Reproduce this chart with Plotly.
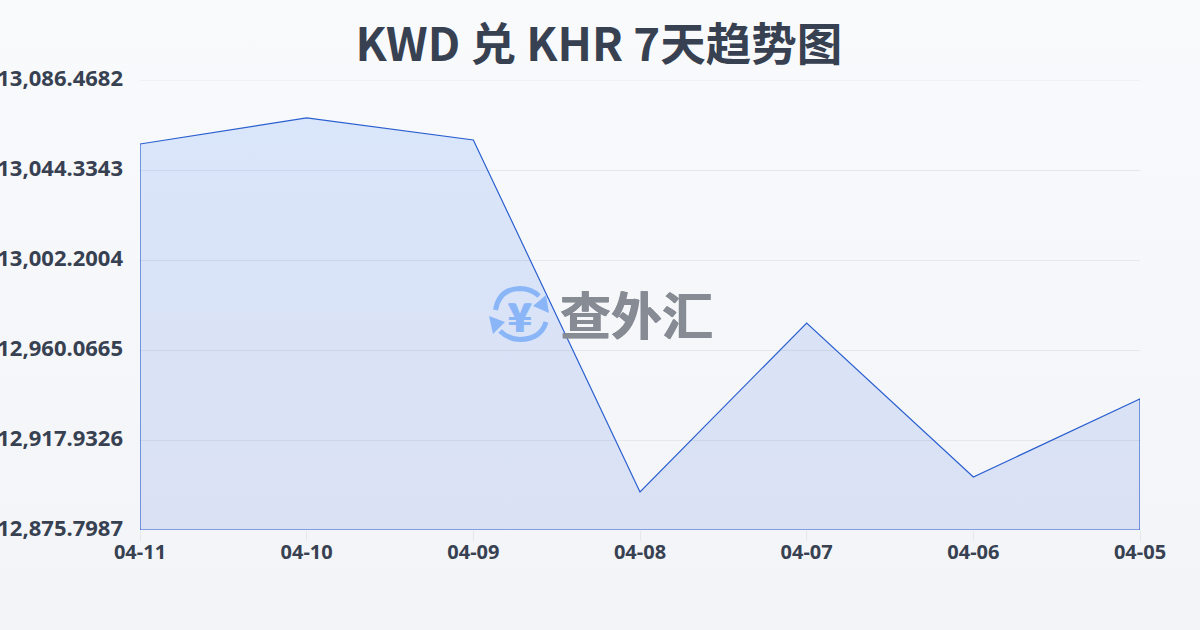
import base64
import plotly.graph_objects as go

dates = ["04-11", "04-10", "04-09", "04-08", "04-07", "04-06", "04-05"]
rates = [13056.5, 13068.7, 13058.4, 12893.6, 12972.7, 12900.6, 12937.2]
tick_values = [12875.7987, 12917.9326, 12960.0665, 13002.2004, 13044.3343, 13086.4682]
tick_labels = ["12,875.7987", "12,917.9326", "12,960.0665", "13,002.2004", "13,044.3343", "13,086.4682"]
title_text = "KWD 兑 KHR 7天趋势图"
watermark_text = "查外汇"
watermark_symbol = "¥"

W, H = 1200, 630
L, R, T, B = 140, 1140, 80, 530


def px(x):
    return (x - L) / (R - L)


def py(y):
    return (B - y) / (B - T)


def path(*cmds):
    out = []
    for c in cmds:
        if isinstance(c, str):
            out.append(c)
        else:
            out.append(f"{px(c[0]):.5f},{py(c[1]):.5f}")
    return " ".join(out)


svg = (
    '<svg xmlns="http://www.w3.org/2000/svg" width="1200" height="630">'
    '<defs><linearGradient id="g" x1="0" y1="0" x2="0" y2="1">'
    '<stop offset="0" stop-color="#f9fafc"/><stop offset="1" stop-color="#f3f4f7"/>'
    '</linearGradient></defs><rect width="1200" height="630" fill="url(#g)"/></svg>'
)
bg = "data:image/svg+xml;base64," + base64.b64encode(svg.encode()).decode()

base = tick_values[0]
poly_x = [dates[0]] + dates + [dates[-1], dates[0]]
poly_y = [base] + rates + [base, base]

fig = go.Figure()
fig.add_trace(go.Scatter(
    x=poly_x, y=poly_y, mode="lines",
    line=dict(color="#2a5fd0", width=1.2),
    fill="toself",
    fillgradient=dict(
        type="vertical",
        colorscale=[[0, "rgba(29,78,216,0.12)"], [1, "rgba(59,130,246,0.16)"]],
    ),
    hoverinfo="skip", showlegend=False, cliponaxis=False,
))

ICON = "#8ab6f8"
arc_top = path("M", (495.5, 310), "Q", (499, 289), (520, 288.5), "Q", (531, 288.5), (539, 296))
arc_bot = path("M", (546, 322), "Q", (541, 339), (520, 339.5), "Q", (509, 339.5), (500, 331))
head_top = path("M", (549, 313), "L", (533, 306), "L", (546, 295), "Z")
head_bot = path("M", (489, 316), "L", (505, 322), "L", (493, 334), "Z")
shapes = [
    dict(type="line", xref="paper", yref="y", x0=0, x1=1, y0=tick_values[-1], y1=tick_values[-1],
         line=dict(color="#e5e7eb", width=1), layer="below"),
    dict(type="path", xref="paper", yref="paper", path=arc_top, line=dict(color=ICON, width=5)),
    dict(type="path", xref="paper", yref="paper", path=arc_bot, line=dict(color=ICON, width=5)),
    dict(type="path", xref="paper", yref="paper", path=head_top, line=dict(width=0), fillcolor=ICON),
    dict(type="path", xref="paper", yref="paper", path=head_bot, line=dict(width=0), fillcolor=ICON),
]

annotations = [
    dict(text=f"<b>{watermark_text}</b>", xref="paper", yref="paper", x=px(636), y=py(313),
         xanchor="center", yanchor="middle", showarrow=False,
         font=dict(family="Noto Sans CJK SC", size=51, color="#868b94",
                   shadow="0.6px 0 #868b94, -0.6px 0 #868b94")),
    dict(text=f"<b>{watermark_symbol}</b>", xref="paper", yref="paper", x=px(520), y=py(315),
         xanchor="center", yanchor="middle", showarrow=False,
         font=dict(family="Noto Sans CJK SC", size=40, color=ICON,
                   shadow="1px 0 #8ab6f8, -1px 0 #8ab6f8")),
]

fig.update_layout(
    width=W, height=H,
    margin=dict(l=L, r=W - R, t=T, b=H - B, autoexpand=False),
    paper_bgcolor="rgba(0,0,0,0)", plot_bgcolor="rgba(0,0,0,0)",
    title=dict(text=f"<b>{title_text}</b>", x=0.499, xanchor="center", y=0.929, yanchor="middle",
               font=dict(family="Noto Sans CJK SC", size=45.5, color="#374151")),
    images=[dict(source=bg, xref="paper", yref="paper", x=-L / (R - L), y=1 + T / (B - T),
                 sizex=W / (R - L), sizey=H / (B - T), sizing="stretch",
                 xanchor="left", yanchor="top", layer="below")],
    shapes=shapes, annotations=annotations,
    xaxis=dict(
        type="category", categoryorder="array", categoryarray=dates, range=[0, 6],
        showgrid=False, zeroline=False, showline=False,
        ticks="outside", ticklen=10, tickcolor="#e5e7eb", tickwidth=1,
        ticklabelstandoff=-6,
        tickfont=dict(family="Noto Sans", size=20, color="#374151", weight=700),
    ),
    yaxis=dict(
        range=[tick_values[0], tick_values[-1]], tickmode="array",
        tickvals=tick_values, ticktext=tick_labels,
        showgrid=True, gridcolor="#e5e7eb", gridwidth=1, zeroline=False, showline=False, ticks="",
        ticklabelstandoff=16, ticklabelshift=-2,
        tickfont=dict(family="Noto Sans", size=22, color="#374151", weight=700),
    ),
)

fig.write_html("out.html", config=dict(displayModeBar=False),
               post_script="document.body.style.margin='0';document.body.style.overflow='hidden';")
